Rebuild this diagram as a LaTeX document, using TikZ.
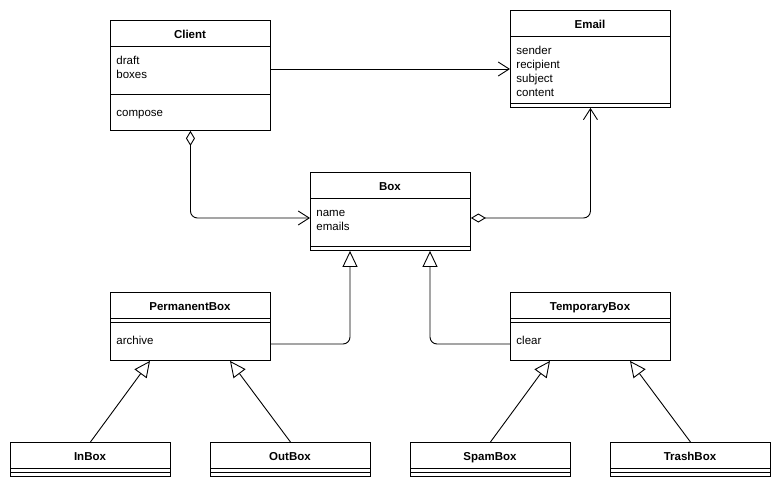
\documentclass[tikz,border=0pt]{standalone}
\usepackage{fontspec}
\setmainfont{Liberation Sans}
\usetikzlibrary{arrows.meta}
\begin{document}
\begin{tikzpicture}[x=1pt,y=-1pt,line width=0.9pt,
  cls/.style={draw,rectangle,anchor=north west,inner sep=0pt,minimum width=160pt},
  ttl/.style={font=\fontsize{11.5}{14}\selectfont\bfseries,inner sep=0pt,text height=8.5pt,text depth=2pt},
  mem/.style={font=\fontsize{11.5}{14}\selectfont,anchor=west,inner sep=0pt,text height=8.5pt,text depth=2pt},
  assoc/.style={-{Straight Barb[length=11pt,width=14pt,line width=0.9pt]}},
  aggr/.style={{Diamond[open,fill=white,length=15pt,width=9pt,line width=0.9pt]}-{Straight Barb[length=11pt,width=14pt,line width=0.9pt]},rounded corners=7pt},
  inherit/.style={-{Triangle[open,fill=white,length=16pt,width=15pt,line width=0.9pt]},rounded corners=7pt}
]
\useasboundingbox (0,0) rectangle (781,487);

% Client
\node[cls,minimum height=110pt] (client) at (110,20) {};
\node[ttl] (clientT) at (190,35) {Client};
\draw (110,46) -- (270,46);
\draw (110,94) -- (270,94);
\node[mem] (clientA1) at (116,61) {draft};
\node[mem] (clientA2) at (116,75) {boxes};
\node[mem] (clientM1) at (116,113) {compose};

% Email
\node[cls,minimum height=97pt] (email) at (510,10) {};
\node[ttl] (emailT) at (590,25) {Email};
\draw (510,36) -- (670,36);
\draw (510,103) -- (670,103);
\node[mem] (emailA1) at (516,51) {sender};
\node[mem] (emailA2) at (516,65) {recipient};
\node[mem] (emailA3) at (516,79) {subject};
\node[mem] (emailA4) at (516,93) {content};

% Box
\node[cls,minimum height=78pt] (box) at (310,172) {};
\node[ttl] (boxT) at (390,187) {Box};
\draw (310,198) -- (470,198);
\draw (310,246) -- (470,246);
\node[mem] (boxA1) at (316,213) {name};
\node[mem] (boxA2) at (316,227) {emails};

% PermanentBox
\node[cls,minimum height=68pt] (perm) at (110,292) {};
\node[ttl] (permT) at (190,307) {PermanentBox};
\draw (110,318) -- (270,318);
\draw (110,322) -- (270,322);
\node[mem] (permM1) at (116,341) {archive};

% TemporaryBox
\node[cls,minimum height=68pt] (temp) at (510,292) {};
\node[ttl] (tempT) at (590,307) {TemporaryBox};
\draw (510,318) -- (670,318);
\draw (510,322) -- (670,322);
\node[mem] (tempM1) at (516,341) {clear};

% Leaf classes
\foreach \nm/\lbl/\x in {inbox/InBox/10,outbox/OutBox/210,spambox/SpamBox/410,trashbox/TrashBox/610}{
  \node[cls,minimum height=34pt] (\nm) at (\x,442) {};
  \node[ttl] (\nm T) at (\x+80,457) {\lbl};
  \draw (\x,468) -- (\x+160,468);
  \draw (\x,472) -- (\x+160,472);
}

% Associations
\draw[assoc] (client.east |- 0,69) -- (email.west |- 0,69);
\draw[aggr] (client.south) |- (box.west |- 0,218);
\draw[aggr] (box.east |- 0,218) -| (email.south);

% Generalizations
\draw[inherit] (perm.east |- 0,344) -| (box.south -| 350,0);
\draw[inherit] (temp.west |- 0,344) -| (box.south -| 430,0);
\draw[inherit] (inbox.north) -- (perm.south -| 150,0);
\draw[inherit] (outbox.north) -- (perm.south -| 230,0);
\draw[inherit] (spambox.north) -- (temp.south -| 550,0);
\draw[inherit] (trashbox.north) -- (temp.south -| 630,0);
\end{tikzpicture}
\end{document}
